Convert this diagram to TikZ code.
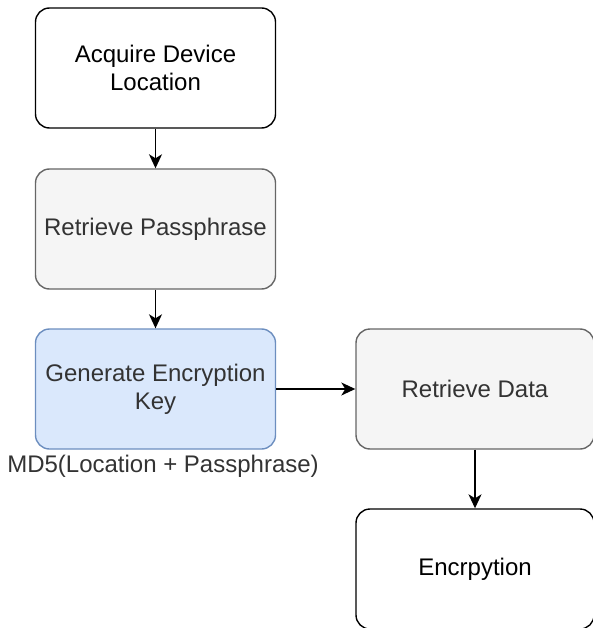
\documentclass[tikz,border=0pt]{standalone}
\usepackage{fontspec}
\setmainfont{Liberation Sans}
\usetikzlibrary{arrows.meta}
\definecolor{grayfill}{HTML}{F5F5F5}
\definecolor{graystroke}{HTML}{666666}
\definecolor{bluefill}{HTML}{DAE8FC}
\definecolor{bluestroke}{HTML}{6C8EBF}
\definecolor{txtgray}{HTML}{333333}
\begin{document}
\begin{tikzpicture}[x=1pt,y=-1pt,
  box/.style={draw=black, fill=white, rounded corners=14pt, line width=1.4pt,
    minimum width=240pt, minimum height=120pt, inner sep=0pt, align=center,
    font=\fontsize{24}{28}\selectfont},
  graybox/.style={box, draw=graystroke, fill=grayfill, text=txtgray},
  bluebox/.style={box, draw=bluestroke, fill=bluefill, text=txtgray},
  conn/.style={line width=1.4pt, -{Stealth[length=14pt, width=13pt, inset=4pt]}},
  lbl/.style={font=\fontsize{24}{28}\selectfont, text=txtgray, inner sep=0pt}]
\useasboundingbox (0,0) rectangle (593,628);
\node[box] (acq) at (155.5,68) {Acquire Device\\Location};
\node[graybox] (pass) at (155.5,229) {Retrieve Passphrase};
\node[bluebox] (gen) at (155.5,389) {Generate Encryption\\Key};
\node[graybox, minimum width=238pt] (data) at (475,389) {Retrieve Data};
\node[box, minimum width=238pt] (enc) at (475,569) {Encrpytion};
\node[lbl] (md5) at (163,466) {MD5(Location + Passphrase)};
\draw[conn] (acq) -- (pass);
\draw[conn] (pass) -- (gen);
\draw[conn] (gen) -- (data);
\draw[conn] (data) -- (enc);
\end{tikzpicture}
\end{document}
